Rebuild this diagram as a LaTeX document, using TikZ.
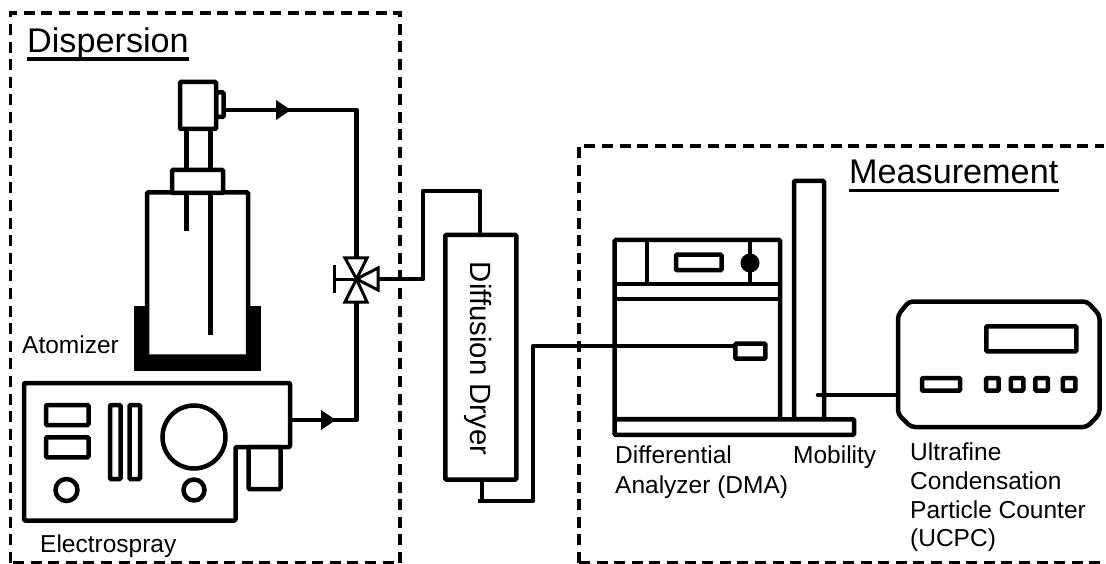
\documentclass[tikz,border=0pt]{standalone}
\usepackage{fontspec}
\setmainfont{Liberation Sans}
\usetikzlibrary{arrows.meta,positioning}
\tikzset{
  box/.style={draw, line width=4.5pt, rounded corners=1pt, inner sep=0pt, outer sep=0pt, anchor=north west, fill=white},
  pipe/.style={line width=4.5pt, line join=round},
  thinpipe/.style={line width=3pt, line join=miter},
  zone/.style={line width=3.5pt, dash pattern=on 11pt off 6.6pt},
  flow/.style={pipe, -{Triangle[length=15pt,width=19pt,sep=0pt]}},
  label/.style={inner sep=0pt, anchor=base west, font=\fontsize{24.5}{28}\selectfont},
  heading/.style={inner sep=0pt, anchor=base west, font=\fontsize{34.2}{40}\selectfont},
}
\begin{document}
\begin{tikzpicture}[x=1pt, y=-1pt]
    \useasboundingbox (0,0) rectangle (1106,564);
    % dashed zones
    \draw[zone] (10.5,563) -- (10.5,13) -- (400,13) -- (400,563) -- cycle;
    \draw[zone] (579,563) -- (579,146) -- (1104,146);
    \draw[zone] (579,563) -- (1104,563);
    \node[heading] (dispersion) at (27,53) {Dispersion};
    \node[heading] (measurement) at (849,184) {Measurement};
    \draw[line width=3.5pt] (dispersion.south west |- 0,59) -- (dispersion.south east |- 0,59);
    \draw[line width=3pt] (measurement.south west |- 0,190.5) -- (measurement.south east |- 0,190.5);

    % atomizer
    \fill (134,306) rectangle (261,371);
    \node[box, minimum width=101pt, minimum height=164pt] (jar) at (147,192.5) {};
    \fill (134,356) rectangle (261,371);
    \draw[pipe] (186.5,192) -- (186.5,231);
    \draw[pipe] (210.7,192) -- (210.7,335);
    \draw[pipe] (186.5,130) -- (186.5,170);
    \draw[pipe] (210.7,130) -- (210.7,170);
    \node[box, minimum width=51pt, minimum height=23pt] (collar) at (172,170) {};
    \node[box, minimum width=7.5pt, minimum height=24.5pt] (nub) at (216,92.5) {};
    \node[box, minimum width=36pt, minimum height=47pt] (head) at (180,82) {};

    % electrospray
    \draw[pipe, rounded corners=1pt] (24,383) -- (290,383) -- (290,447) -- (235.5,447) -- (235.5,520.5) -- (24,520.5) -- cycle;
    \node[box, minimum width=32pt, minimum height=42pt] (tank) at (248.5,447) {};
    \foreach \n/\y in {a/405,b/437.3} {
        \node[box, minimum width=42.5pt, minimum height=20pt] (panel\n) at (46,\y) {};
    }
    \foreach \n/\x in {a/110,b/129.5} {
        \node[box, minimum width=10.5pt, minimum height=74pt] (slot\n) at (\x,405) {};
    }
    \draw[line width=4.5pt] (194,437) circle (31.5pt);
    \draw[line width=4.5pt] (66.5,490) circle (11pt);
    \draw[line width=4.5pt] (194,490) circle (10.5pt);
    \coordinate (sprayout) at (290,420);

    % valve
    \coordinate (valve) at (356.5,279);
    \coordinate (valvein) at (378,279);
    \draw[thinpipe] (valve) -- (345,258) -- (367,258) -- cycle;
    \draw[thinpipe] (valve) -- (345,302) -- (367,302) -- cycle;
    \draw[thinpipe] (valve) -- (378,268) -- (378,290) -- cycle;
    \draw[thinpipe] (valve) -- (334,279);
    \draw[thinpipe] (334,265) -- (334,293);

    % flow lines
    \coordinate (tailatom) at (276,110);
    \coordinate (tipatom) at (291,110);
    \coordinate (tailspray) at (321,420);
    \coordinate (tipspray) at (336,420);
    \draw[pipe] (nub.east |- tipatom) -- (356.5,110) -- (356.5,258);
    \draw[flow] (tailatom) -- (tipatom);
    \draw[pipe] (sprayout) -- (356.5,420) -- (356.5,302);
    \draw[flow] (tailspray) -- (tipspray);

    % dryer
    \node[box, minimum width=71pt, minimum height=244.5pt] (dryer) at (445.3,235) {};
    \node[inner sep=0pt, rotate=-90, font=\fontsize{29.3}{34}\selectfont] (dryertext) at (478,358.5) {Diffusion Dryer};
    \draw[pipe] (valvein) -- (423,279) -- (423,191) -- (480,191) -- (480,235);
    \draw[pipe] (482,479) -- (482,501);
    \draw[pipe] (478,501) -- (533,501) -- (533,346) -- (735,346);

    % DMA
    \node[box, minimum width=165.3pt, minimum height=179pt] (dma) at (614.7,240) {};
    \draw[pipe] (615,284) -- (780,284);
    \draw[pipe] (615,299) -- (780,299);
    \draw[pipe] (647,240) -- (647,284);
    \draw[pipe] (750,240) -- (750,284);
    \fill (750,263) circle (9.5pt);
    \node[box, minimum width=45.5pt, minimum height=15.5pt] (dmascreen) at (676,254.7) {};
    \node[box, minimum width=30pt, minimum height=15pt] (port) at (735.3,343.7) {};
    \draw[pipe] (533,346) -- (port.west |- 0,346);
    \node[box, minimum width=30pt, minimum height=238pt] (column) at (794,181) {};
    \node[box, minimum width=239.3pt, minimum height=15.5pt] (base) at (614.7,419.3) {};

    % UCPC
    \draw[pipe, rounded corners=4pt] (909,301.5) -- (1087,301.5) -- (1099.5,315) -- (1099.5,414) -- (1087,427) -- (911,427) -- (898,414) -- (898,315) -- cycle;
    \coordinate (ucpcin) at (898,395);
    \coordinate (columntap) at (818,395);
    \draw[pipe, line cap=round] (columntap) -- (ucpcin);
    \node[box, minimum width=90pt, minimum height=25pt] (display) at (986.3,326.3) {};
    \node[box, minimum width=38pt, minimum height=12.7pt] (ucpcslot) at (922,378) {};
    \foreach \n/\x in {a/992.4,b/1017,c/1041.7,d/1069} {
        \node[box, anchor=center, minimum width=12.5pt, minimum height=12.5pt] (key\n) at (\x,384.3) {};
    }

    % labels
    \node[label] (atomizer) at (22,353) {Atomizer};
    \node[label] (electrospray) at (40,552) {Electrospray};
    \node[label] (differential) at (615,463) {Differential};
    \node[label] (analyzer) at (615,493) {Analyzer (DMA)};
    \node[label] (mobility) at (793,463) {Mobility};
    \foreach \n/\y/\t in {a/460/Ultrafine,b/489/Condensation,c/518/Particle Counter,d/546/(UCPC)} {
        \node[label] (ucpc\n) at (910,\y) {\t};
    }
\end{tikzpicture}
\end{document}
